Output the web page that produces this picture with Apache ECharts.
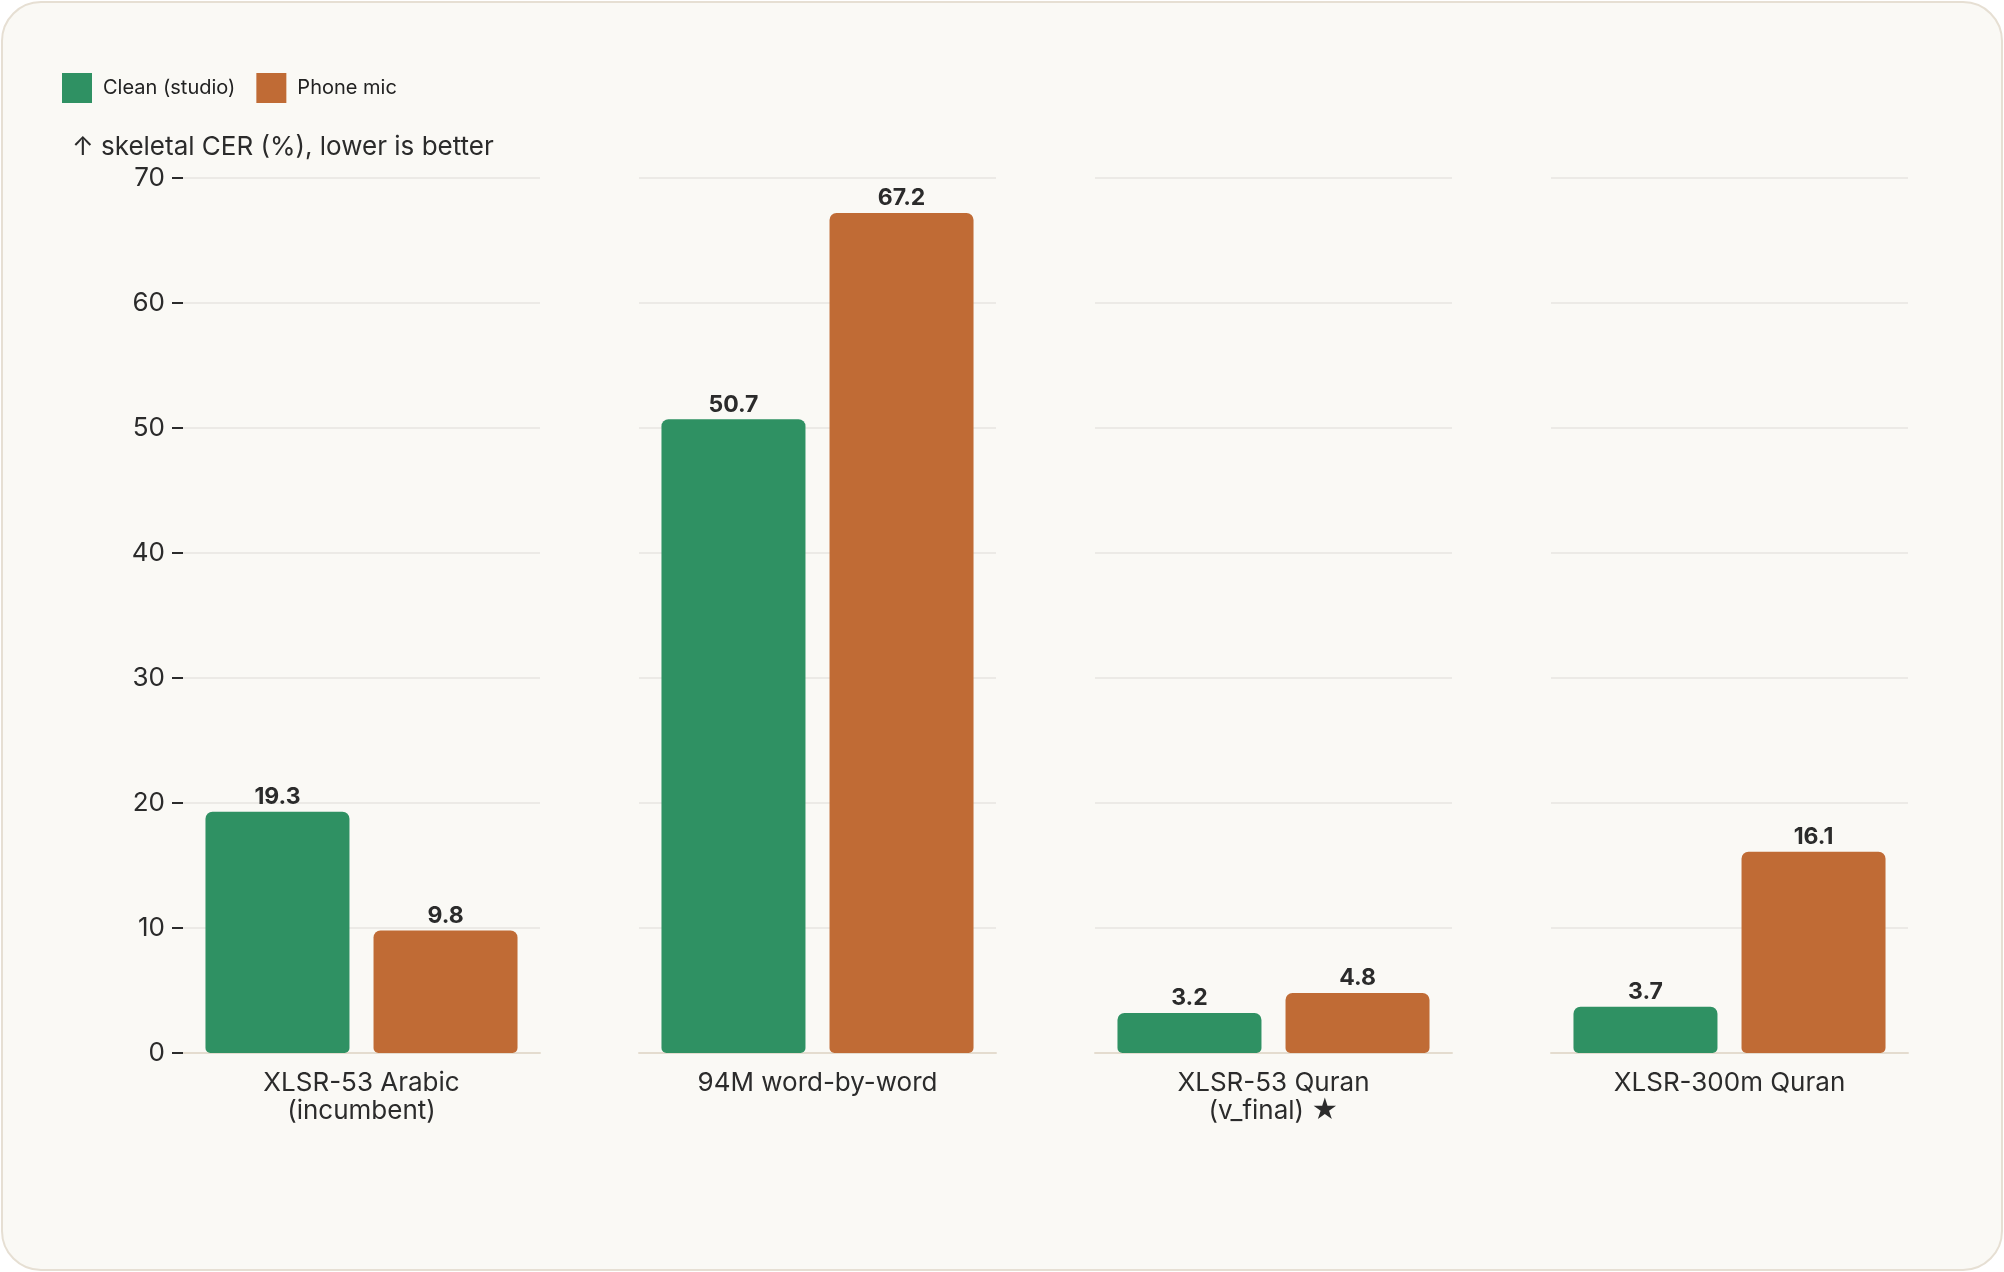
<!DOCTYPE html>
<html>
<head>
  <meta charset="utf-8">
  <title>skeletal CER</title>
  <script src="https://cdn.jsdelivr.net/npm/echarts@6/dist/echarts.min.js"></script>
  <style type="text/css">
    html, body {
      margin: 0;
      padding: 0;
      width: 100%;
      height: 100%;
      background: #ffffff;
    }
    #card {
      position: absolute;
      left: 1px; top: 1px; right: 1px; bottom: 1px;
      border: 2px solid #e6dfd3;
      border-radius: 40px;
      background: #faf9f5;
    }
    #main {
      position: absolute;
      left: 0; top: 0;
      width: 2004px;
      height: 1272px;
    }
  </style>
</head>
<body>
  <div id="card"></div>
  <div id="main"></div>
  <script>
    var categories = ['XLSR-53 Arabic\n(incumbent)', '94M word-by-word', 'XLSR-53 Quran\n(v_final) \u2605', 'XLSR-300m Quran'];
    var clean = [19.3, 50.7, 3.2, 3.7];
    var phone = [9.8, 67.2, 4.8, 16.1];
    var yTicks = { min: 0, max: 70, interval: 10 };

    var GREEN = '#2f9163';
    var ORANGE = '#c06b35';
    var TEXT = '#2b2b2b';
    var FONT = 'Inter, "Liberation Sans", sans-serif';

    var grids = [], xAxes = [], yAxes = [], series = [];
    categories.forEach(function (cat, i) {
      // each model gets its own little panel, like the reference
      grids.push({ left: 183 + i * 456, width: 357, top: 178, height: 875 });
      xAxes.push({
        type: 'category',
        gridIndex: i,
        data: [cat],
        axisLine: { show: true, lineStyle: { color: '#e4dccf', width: 2 } },
        axisTick: { show: false },
        axisLabel: { color: TEXT, fontFamily: FONT, fontSize: 26, lineHeight: 28, margin: 16 }
      });
      yAxes.push({
        type: 'value',
        gridIndex: i,
        min: yTicks.min,
        max: yTicks.max,
        interval: yTicks.interval,
        axisLine: { show: false },
        axisTick: { show: i === 0, length: 11, lineStyle: { color: TEXT, width: 2 } },
        axisLabel: { show: i === 0, color: TEXT, fontFamily: FONT, fontSize: 26, margin: 18 },
        splitLine: { show: true, lineStyle: { color: '#e7e5e0', width: 1.5 } }
      });
      var lbl = {
        show: true, position: 'top', distance: 3,
        color: TEXT, fontFamily: FONT, fontWeight: 'bold', fontSize: 23,
        formatter: function (p) { return p.value.toFixed(1); }
      };
      series.push({
        name: 'Clean (studio)', type: 'bar', xAxisIndex: i, yAxisIndex: i,
        data: [clean[i]], barWidth: 144, barGap: '16.7%',
        itemStyle: { color: GREEN, borderRadius: [7, 7, 5, 5] },
        label: lbl
      });
      series.push({
        name: 'Phone mic', type: 'bar', xAxisIndex: i, yAxisIndex: i,
        data: [phone[i]], barWidth: 144, barGap: '16.7%',
        itemStyle: { color: ORANGE, borderRadius: [7, 7, 5, 5] },
        label: lbl
      });
    });

    var myChart = echarts.init(document.getElementById('main'));
    myChart.setOption({
      animation: false,
      backgroundColor: 'transparent',
      legend: {
        left: 62, top: 73, padding: 0,
        icon: 'rect',
        itemWidth: 30, itemHeight: 30, itemGap: 21,
        data: ['Clean (studio)', 'Phone mic'],
        textStyle: { color: '#222', fontFamily: FONT, fontSize: 20, padding: [0, 0, 0, 6] }
      },
      graphic: [{
        type: 'text', left: 72, top: 134,
        style: { text: '\u2191 skeletal CER (%), lower is better', fill: TEXT, font: '26px ' + FONT }
      }],
      grid: grids,
      xAxis: xAxes,
      yAxis: yAxes,
      series: series
    });
  </script>
</body>
</html>
